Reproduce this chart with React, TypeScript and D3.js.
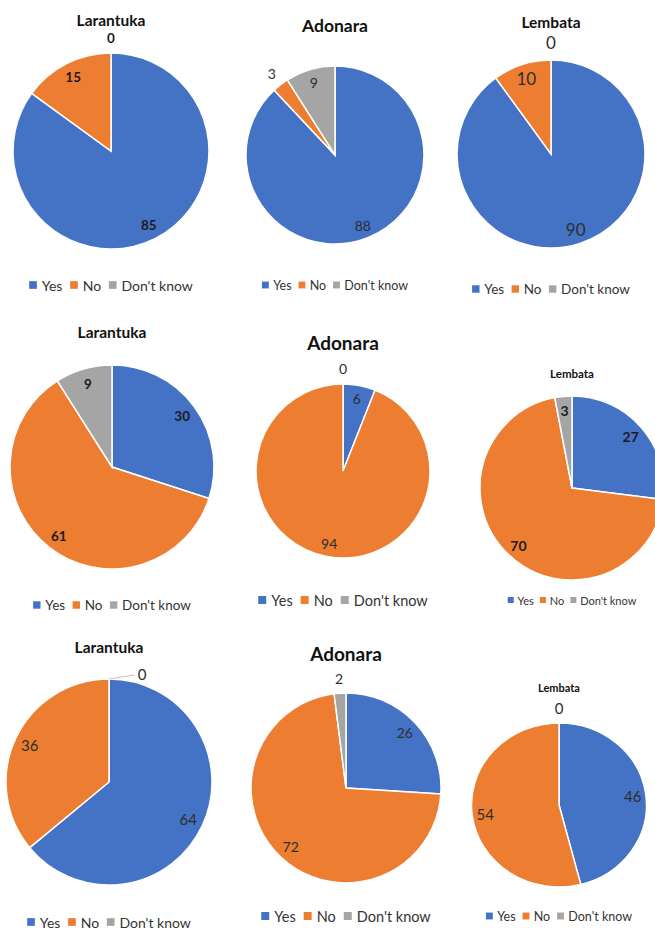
import React, { useEffect, useRef } from "react"
import * as d3 from "d3"

// answers per area, in the order the panels appear (row by row)
const categories = ["Yes", "No", "Don't know"]
const titles = ["Larantuka", "Adonara", "Lembata", "Larantuka", "Adonara", "Lembata", "Larantuka", "Adonara", "Lembata"]
const yesValues = [85, 88, 90, 30, 6, 27, 64, 26, 46]
const noValues = [15, 3, 10, 61, 94, 70, 36, 72, 54]
const dontKnowValues = [0, 9, 0, 9, 0, 3, 0, 2, 0]
const colors = ["#4472C4", "#ED7D31", "#A5A5A5"]

const FONT = "Lato, 'Open Sans', sans-serif"

// layout of each small pie (the screenshot panels are all scaled a bit differently)
const panels = [
  { cx: 111, cy: 151, rx: 98, ry: 98, titleY: 20, titleSize: 15.5, labelSize: 13.5, bold: true, outside: [], gap: 15, legendY: 285, legendSize: 14 },
  { cx: 335, cy: 155, rx: 89, ry: 89, titleY: 25, titleSize: 17.5, labelSize: 14, bold: false, outside: [1], gap: 14, legendY: 285, legendSize: 12.5 },
  { cx: 551, cy: 154, rx: 94, ry: 94, titleY: 22, titleSize: 15.5, labelSize: 17, bold: false, outside: [], gap: 18, legendY: 289, legendSize: 13.5 },
  { cx: 112, cy: 467, rx: 102, ry: 102, titleY: 332, titleSize: 15.5, labelSize: 13.5, bold: true, outside: [], gap: 15, legendY: 605, legendSize: 13.5 },
  { cx: 343, cy: 471, rx: 87, ry: 87, titleY: 342, titleSize: 19, labelSize: 14, bold: false, outside: [], gap: 16, legendY: 600, legendSize: 14.5 },
  { cx: 572, cy: 488, rx: 92, ry: 92, titleY: 373, titleSize: 11.5, labelSize: 14, bold: true, outside: [], gap: 15, legendY: 600, legendSize: 11 },
  { cx: 109, cy: 782, rx: 103, ry: 103, titleY: 647, titleSize: 15.5, labelSize: 15, bold: false, outside: [], gap: 0, legendY: 922, legendSize: 14, leader: { dx: 33, dy: -5 } },
  { cx: 346, cy: 788, rx: 95, ry: 95, titleY: 653, titleSize: 19, labelSize: 14, bold: false, outside: [2], gap: 15, legendY: 916, legendSize: 14.5 },
  { cx: 559, cy: 805, rx: 87.5, ry: 82, titleY: 687, titleSize: 11, labelSize: 15, bold: false, outside: [], gap: 15, legendY: 916, legendSize: 12.5 },
]

const drawPanel = (svg, i) => {
  const p = panels[i]
  const values = [yesValues[i], noValues[i], dontKnowValues[i]]
  const data = categories.map((c, k) => ({ name: c, value: values[k], color: colors[k], k }))
  const sy = p.ry / p.rx

  const pie = d3.pie().value(d => d.value).sort(null)
  const arcs = pie(data)
  const arcGenerator = d3.arc().innerRadius(0).outerRadius(p.rx)

  const g = svg.append("g").attr("transform", "translate(" + p.cx + "," + p.cy + ")")

  g.append("g")
    .attr("transform", "scale(1," + sy + ")")
    .selectAll("path")
    .data(arcs.filter(d => d.data.value > 0))
    .enter()
    .append("path")
    .attr("d", arcGenerator)
    .attr("fill", d => d.data.color)
    .attr("stroke", "#fff")
    .attr("stroke-width", 1.5)

  const at = (a, rr) => [Math.sin(a) * rr, -Math.cos(a) * rr * sy]

  arcs.forEach(d => {
    const mid = (d.startAngle + d.endAngle) / 2
    const out = d.data.value === 0 || p.outside.includes(d.data.k)
    let pos
    if (out && p.leader) {
      const edge = at(mid, p.rx)
      pos = [edge[0] + p.leader.dx, edge[1] + p.leader.dy]
      g.append("path")
        .attr("d", d3.line()([edge, [pos[0] - 8, pos[1] + 1]]))
        .attr("stroke", "#bfbfbf")
        .attr("stroke-width", 1)
        .attr("fill", "none")
    } else if (out) {
      const e = at(mid, 1)
      pos = [e[0] * (p.rx + p.gap), -Math.cos(mid) * (p.ry + p.gap)]
    } else {
      pos = at(mid, p.rx * 0.85)
    }
    g.append("text")
      .attr("x", pos[0])
      .attr("y", pos[1])
      .attr("text-anchor", "middle")
      .attr("dominant-baseline", "central")
      .style("font-family", FONT)
      .style("font-size", p.labelSize + "px")
      .style("font-weight", p.bold ? 700 : 400)
      .attr("fill", p.bold ? "#1c1c1c" : "#2e2e2e")
      .text(d.data.value)
  })

  // title
  svg.append("text")
    .attr("x", p.cx)
    .attr("y", p.titleY)
    .attr("text-anchor", "middle")
    .attr("dominant-baseline", "central")
    .style("font-family", FONT)
    .style("font-size", p.titleSize + "px")
    .style("font-weight", 700)
    .attr("fill", "#111")
    .text(titles[i])

  // legend, centred under the pie
  const f = p.legendSize
  const sq = f * 0.55
  const legend = svg.append("g")
  let x = 0
  categories.forEach((c, k) => {
    legend.append("rect")
      .attr("x", x)
      .attr("y", -sq / 2)
      .attr("width", sq)
      .attr("height", sq)
      .attr("fill", colors[k])
    x += sq + f * 0.35
    const t = legend.append("text")
      .attr("x", x)
      .attr("y", 0)
      .attr("dominant-baseline", "central")
      .style("font-family", FONT)
      .style("font-size", f + "px")
      .attr("fill", "#333")
      .text(c)
    x += t.node().getComputedTextLength()
    if (k < categories.length - 1) x += f * 0.55
  })
  legend.attr("transform", "translate(" + (p.cx - x / 2) + "," + p.legendY + ")")
}

export default function App() {
  const ref = useRef(null)
  useEffect(() => {
    const svg = d3.select(ref.current)
    svg.selectAll("*").remove()
    svg.append("rect").attr("width", 655).attr("height", 929).attr("fill", "#fff")
    panels.forEach((_, i) => drawPanel(svg, i))
  }, [])

  return (
    <svg
      ref={ref}
      width={655}
      height={929}
      style={{ position: "absolute", left: 0, top: 0, display: "block" }}
    ></svg>
  )
}
